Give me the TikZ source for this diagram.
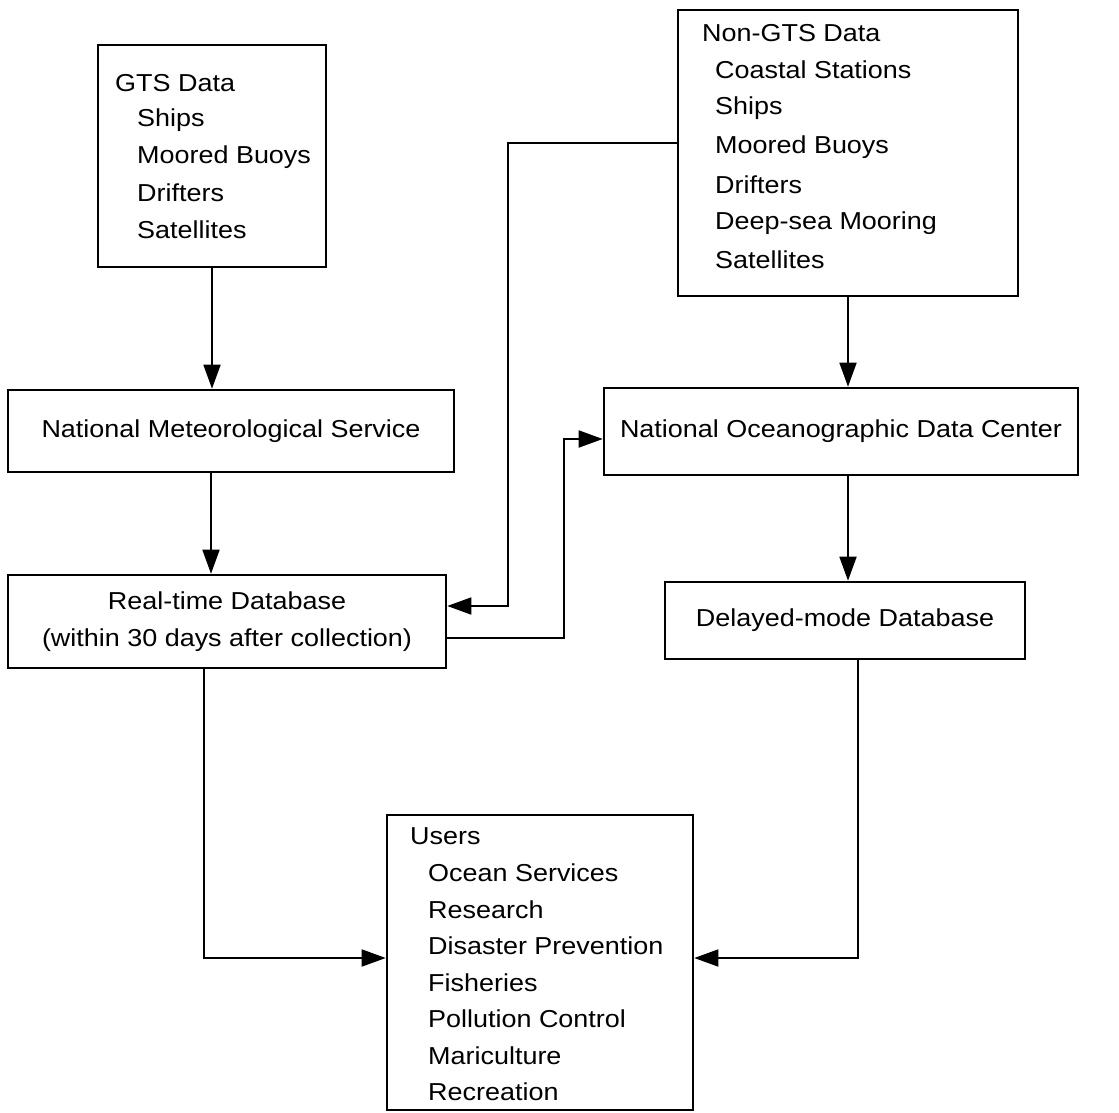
\documentclass[tikz,border=0pt]{standalone}
\usepackage{fontspec}
\setmainfont[FakeStretch=1.1]{Liberation Sans}
\usetikzlibrary{arrows.meta}
\begin{document}
\begin{tikzpicture}[x=1pt,y=-1pt,
  box/.style={draw,line width=2.6pt,inner sep=0pt},
  lbl/.style={inner sep=0pt,font=\fontsize{24.5}{37}\selectfont},
  conn/.style={line width=1.8pt,-{Triangle[length=24pt,width=17pt]}}]
\useasboundingbox (0,0) rectangle (1119,1113);
% boxes
\node[box,minimum width=228pt,minimum height=222pt] (gts) at (212,156) {};
\node[box,minimum width=340pt,minimum height=286pt] (ngts) at (848,153) {};
\node[box,minimum width=446pt,minimum height=82pt] (nms) at (231,431) {};
\node[box,minimum width=474pt,minimum height=87pt] (nodc) at (841,431.5) {};
\node[box,minimum width=438pt,minimum height=93pt] (rt) at (227,621.5) {};
\node[box,minimum width=360pt,minimum height=77pt] (dm) at (845,620.5) {};
\node[box,minimum width=306pt,minimum height=295pt] (users) at (540,962.5) {};
% texts
\node[lbl,anchor=west] (t1) at (115,83) {GTS Data};
\node[lbl,anchor=west] (t2) at (137,120) {Ships};
\node[lbl,anchor=west] (t3) at (137,157) {Moored Buoys};
\node[lbl,anchor=west] (t4) at (137,193) {Drifters};
\node[lbl,anchor=west] (t5) at (137,230) {Satellites};
\node[lbl,anchor=west] (n1) at (702,33) {Non-GTS Data};
\node[lbl,anchor=west] (n2) at (715,70) {Coastal Stations};
\node[lbl,anchor=west] (n3) at (715,108) {Ships};
\node[lbl,anchor=west] (n4) at (715,147) {Moored Buoys};
\node[lbl,anchor=west] (n5) at (715,185) {Drifters};
\node[lbl,anchor=west] (n6) at (715,223) {Deep-sea Mooring};
\node[lbl,anchor=west] (n7) at (715,260) {Satellites};
\node[lbl] (nmst) at (nms.center) {National Meteorological Service};
\node[lbl] (nodct) at (nodc.center) {National Oceanographic Data Center};
\node[lbl,align=center] (rtt) at (rt.center) {Real-time Database\\(within 30 days after collection)};
\node[lbl] (dmt) at (dm.center) {Delayed-mode Database};
\node[lbl,anchor=west] (u0) at (410,836) {Users};
\node[lbl,anchor=west] (u1) at (428,873) {Ocean Services};
\node[lbl,anchor=west] (u2) at (428,909.5) {Research};
\node[lbl,anchor=west] (u3) at (428,946) {Disaster Prevention};
\node[lbl,anchor=west] (u4) at (428,982.5) {Fisheries};
\node[lbl,anchor=west] (u5) at (428,1019) {Pollution Control};
\node[lbl,anchor=west] (u6) at (428,1055.5) {Mariculture};
\node[lbl,anchor=west] (u7) at (428,1092) {Recreation};
% connectors
\draw[conn] (gts.south) -- (gts.south |- nms.north);
\draw[conn] (nms.south -| 211,0) -- (rt.north -| 211,0);
\draw[conn] (ngts.south) -- (ngts.south |- nodc.north);
\draw[conn] (nodc.south -| 848,0) -- (dm.north -| 848,0);
\draw[conn] (ngts.west |- 0,143) -| (508,606) -- (rt.east |- 0,606);
\draw[conn] (rt.east |- 0,638) -| (564,439) -- (nodc.west |- 0,439);
\draw[conn] (rt.south -| 204,0) |- (users.west |- 0,958);
\draw[conn] (dm.south -| 858,0) |- (users.east |- 0,958);
\end{tikzpicture}
\end{document}
